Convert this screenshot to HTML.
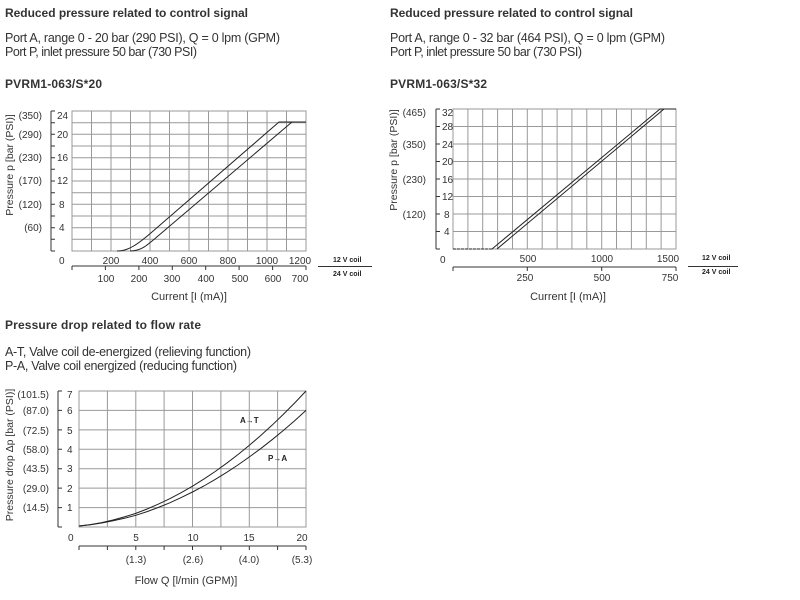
<!DOCTYPE html>
<html><head><meta charset="utf-8"><style>
html,body{margin:0;padding:0;background:#fff;}
svg{display:block;font-family:"Liberation Sans",sans-serif;}
.t{font-weight:bold;font-size:12px;fill:#333;}
.b{font-size:12.5px;fill:#333;}
.l{font-size:10px;fill:#333;}
.g{stroke:#999;stroke-width:1;fill:none;}
.a{stroke:#333;stroke-width:1;fill:none;}
.c{stroke:#222;stroke-width:1;fill:none;}
.k{font-size:7px;font-weight:bold;fill:#222;}
</style></head><body>
<svg width="800" height="600" viewBox="0 0 800 600">
<text class="t" x="5" y="17" textLength="243">Reduced pressure related to control signal</text>
<text class="b" x="5" y="42" textLength="275">Port A, range 0 - 20 bar (290 PSI),  Q = 0 lpm (GPM)</text>
<text class="b" x="5" y="56" textLength="192">Port P, inlet pressure 50 bar (730 PSI)</text>
<text class="t" x="5" y="88" textLength="97">PVRM1-063/S*20</text>
<text class="t" x="390" y="17" textLength="243">Reduced pressure related to control signal</text>
<text class="b" x="390" y="42" textLength="275">Port A, range 0 - 32 bar (464 PSI),  Q = 0 lpm (GPM)</text>
<text class="b" x="390" y="56" textLength="192">Port P, inlet pressure 50 bar (730 PSI)</text>
<text class="t" x="390" y="88" textLength="97">PVRM1-063/S*32</text>
<text class="t" x="5" y="329" textLength="196">Pressure drop related to flow rate</text>
<text class="b" x="5" y="356" textLength="246">A-T, Valve coil de-energized (relieving function)</text>
<text class="b" x="5" y="370" textLength="232">P-A, Valve coil energized (reducing function)</text>

<!-- CHART 1 -->
<g>
<rect x="72" y="111" width="234" height="140" class="g"/>
<path class="g" d="M91.5 111V251M111 111V251M130.5 111V251M150 111V251M169.5 111V251M189 111V251M208.5 111V251M228 111V251M247.5 111V251M267 111V251M286.5 111V251
M72 122.7H306M72 134.3H306M72 146H306M72 157.7H306M72 169.3H306M72 181H306M72 192.7H306M72 204.3H306M72 216H306M72 227.7H306M72 239.3H306"/>
<path class="a" d="M51 111V251M51 111h4M51 122.7h4M51 134.3h4M51 146h4M51 157.7h4M51 169.3h4M51 181h4M51 192.7h4M51 204.3h4M51 216h4M51 227.7h4M51 239.3h4M51 251h4"/>
<g class="l" text-anchor="end">
<text x="42" y="119">(350)</text><text x="42" y="138">(290)</text><text x="42" y="161">(230)</text><text x="42" y="184">(170)</text><text x="42" y="208">(120)</text><text x="42" y="231">(60)</text>
</g>
<g class="l">
<text x="57" y="119">24</text><text x="57" y="138">20</text><text x="57" y="161">16</text><text x="57" y="184">12</text><text x="59" y="208">8</text><text x="59" y="231">4</text>
<text x="59" y="264">0</text>
</g>
<text class="l" transform="translate(13,165) rotate(-90)" text-anchor="middle" style="font-size:10.5px">Pressure p [bar (PSI)]</text>
<g class="l" text-anchor="middle">
<text x="111" y="264">200</text><text x="150" y="264">400</text><text x="189" y="264">600</text><text x="228" y="264">800</text><text x="267" y="264">1000</text><text x="300" y="264">1200</text>
<text x="106" y="282">100</text><text x="139" y="282">200</text><text x="172" y="282">300</text><text x="206" y="282">400</text><text x="240" y="282">500</text><text x="273" y="282">600</text><text x="300" y="282">700</text>
</g>
<path class="a" d="M72 266H306M72 266v4M105.4 266v4M138.9 266v4M172.3 266v4M205.7 266v4M239.1 266v4M272.6 266v4M306 266v4"/>
<text class="b" x="189" y="300" text-anchor="middle" style="font-size:11px">Current [I (mA)]</text>
<text class="k" x="333" y="262">12 V coil</text>
<path class="a" d="M318 266.5H372"/>
<text class="k" x="333" y="276">24 V coil</text>
<path class="c" d="M117 251C128 251 137 245 152 232L279 122H306"/>
<path class="c" d="M130 251C141 251 146 246.2 158 236L292 122"/>
</g>

<!-- CHART 2 -->
<g>
<rect x="453" y="109" width="223" height="140" class="g"/>
<path class="g" d="M467.9 109V249M482.7 109V249M497.6 109V249M512.5 109V249M527.3 109V249M542.2 109V249M557.1 109V249M571.9 109V249M586.8 109V249M601.7 109V249M616.5 109V249M631.4 109V249M646.3 109V249M661.1 109V249
M453 126.5H676M453 144H676M453 161.5H676M453 179H676M453 196.5H676M453 214H676M453 231.5H676"/>
<path class="a" d="M436 109V249M436 109h4M436 126.5h4M436 144h4M436 161.5h4M436 179h4M436 196.5h4M436 214h4M436 231.5h4M436 249h4"/>
<g class="l" text-anchor="end">
<text x="426" y="116">(465)</text><text x="426" y="148">(350)</text><text x="426" y="183">(230)</text><text x="426" y="218">(120)</text>
</g>
<g class="l">
<text x="442" y="116">32</text><text x="442" y="130">28</text><text x="442" y="148">24</text><text x="442" y="165">20</text><text x="442" y="183">16</text><text x="442" y="200">12</text><text x="444" y="218">8</text><text x="444" y="235">4</text>
<text x="440" y="263">0</text>
</g>
<text class="l" transform="translate(397,160) rotate(-90)" text-anchor="middle" style="font-size:10.5px">Pressure p [bar (PSI)]</text>
<g class="l" text-anchor="middle">
<text x="528" y="262">500</text><text x="602" y="262">1000</text><text x="668" y="262">1500</text>
<text x="525" y="281">250</text><text x="602" y="281">500</text><text x="670" y="281">750</text>
</g>
<path class="a" d="M453 267H676M453 267v4M527.3 267v4M601.7 267v4M676 267v4"/>
<text class="b" x="568" y="300" text-anchor="middle" style="font-size:11px">Current [I (mA)]</text>
<text class="k" x="702" y="260">12 V coil</text>
<path class="a" d="M688 266.5H738"/>
<text class="k" x="702" y="274">24 V coil</text>
<path class="c" d="M453 249H492" stroke-dasharray="3 1"/>
<path class="c" d="M492 249L660 109H676"/>
<path class="c" d="M497 249L664 109"/>
</g>

<!-- CHART 3 -->
<g>
<rect x="79" y="391" width="227" height="136" class="g"/>
<path class="g" d="M107.4 391V527M135.8 391V527M164.1 391V527M192.5 391V527M220.9 391V527M249.3 391V527M277.6 391V527
M79 410.4H306M79 429.9H306M79 449.3H306M79 468.7H306M79 488.1H306M79 507.6H306"/>
<path class="a" d="M58 391V527M58 391h4M58 410.4h4M58 429.9h4M58 449.3h4M58 468.7h4M58 488.1h4M58 507.6h4M58 527h4"/>
<g class="l" text-anchor="end">
<text x="49" y="398">(101.5)</text><text x="49" y="414">(87.0)</text><text x="49" y="434">(72.5)</text><text x="49" y="453">(58.0)</text><text x="49" y="472">(43.5)</text><text x="49" y="492">(29.0)</text><text x="49" y="511">(14.5)</text>
</g>
<g class="l">
<text x="67" y="398">7</text><text x="67" y="414">6</text><text x="67" y="434">5</text><text x="67" y="453">4</text><text x="67" y="472">3</text><text x="67" y="492">2</text><text x="67" y="511">1</text>
<text x="68" y="541">0</text>
</g>
<text class="l" transform="translate(13,455) rotate(-90)" text-anchor="middle" style="font-size:10.5px">Pressure drop Δp [bar (PSI)]</text>
<g class="l" text-anchor="middle">
<text x="136" y="541">5</text><text x="193" y="541">10</text><text x="249" y="541">15</text><text x="302" y="541">20</text>
<text x="136" y="563">(1.3)</text><text x="193" y="563">(2.6)</text><text x="249" y="563">(4.0)</text><text x="302" y="563">(5.3)</text>
</g>
<path class="a" d="M79 546H306M79 546v4M107.4 546v4M135.8 546v4M164.1 546v4M192.5 546v4M220.9 546v4M249.3 546v4M277.6 546v4M306 546v4"/>
<text class="b" x="186" y="584" text-anchor="middle" style="font-size:11px">Flow Q [l/min (GPM)]</text>
<polyline class="c" points="79,526 90.35,524.6 101.7,522.6 113.05,520 124.4,516.9 135.75,513.4 147.1,509 158.45,504.1 169.8,498.7 181.15,492.7 192.5,486.2 203.85,479.1 215.2,471.5 226.55,463.3 237.9,454.6 249.25,445.4 260.6,435.6 271.95,425.3 283.3,414.4 294.65,403 306,391"/>
<polyline class="c" points="79,526 90.35,524.7 101.7,523 113.05,520.8 124.4,518.3 135.75,515.3 147.1,511.6 158.45,507.4 169.8,502.8 181.15,497.6 192.5,492 203.85,486 215.2,479.4 226.55,472.4 237.9,465 249.25,457 260.6,448.7 271.95,439.8 283.3,430.5 294.65,420.7 306,410.4"/>
<text class="k" x="240" y="423" style="font-size:8px">A→T</text>
<text class="k" x="268" y="461" style="font-size:8px">P→A</text>
</g>
</svg>
</body></html>
